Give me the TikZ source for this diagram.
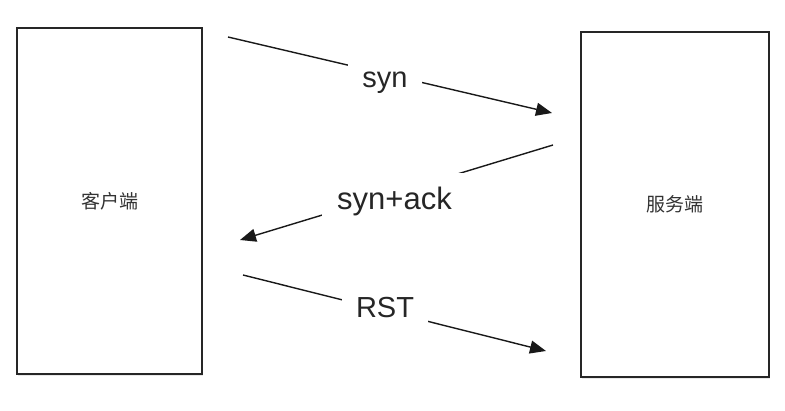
\documentclass[tikz,border=0pt]{standalone}
\usepackage{fontspec}
\setmainfont{Liberation Sans}
\newfontfamily\cjk{Noto Sans CJK SC}
\usetikzlibrary{arrows.meta,shadows}
\begin{document}
\begin{tikzpicture}[x=1pt,y=-1pt,
  party/.style={draw=black!85,line width=1.8pt,fill=white,minimum width=185pt,minimum height=346pt,inner sep=0pt,
    drop shadow={opacity=0.18,shadow xshift=1pt,shadow yshift=-2.5pt},font=\cjk\fontsize{19}{21}\selectfont,text=black!80},
  msg/.style={line width=1.4pt,black!90,-{Triangle[length=16pt,width=13pt]}},
  lbl/.style={fill=white,anchor=base,inner xsep=14.5pt,inner ysep=9pt,font=\fontsize{29}{31}\selectfont,text=black!85}]
\useasboundingbox (0,0) rectangle (785,411);
\node[party] (client) at (109.5,201) {客户端};
\node[party, minimum width=188pt, minimum height=345pt] (server) at (675,204.5) {服务端};
\coordinate (s1) at (228,37);
\coordinate (e1) at (552,113);
\coordinate (s2) at (553,145);
\coordinate (e2) at (240,240);
\coordinate (s3) at (243,275);
\coordinate (e3) at (546,351);
\draw[msg] (s1) -- (e1);
\draw[msg] (s2) -- (e2);
\draw[msg] (s3) -- (e3);
\node[lbl] (l1) at (385,88) {syn};
\node[lbl, inner xsep=15.5pt, inner ysep=15pt, font=\fontsize{31}{33}\selectfont] (l2) at (394.5,210) {syn+ack};
\node[lbl, inner xsep=14pt] (l3) at (385,318) {RST};
\end{tikzpicture}
\end{document}
